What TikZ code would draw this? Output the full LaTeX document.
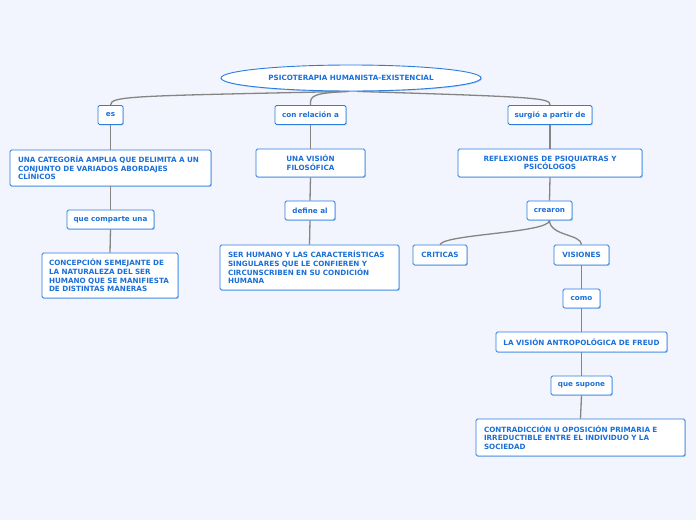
\documentclass[tikz,border=0pt]{standalone}
\usepackage{fontspec}
\setmainfont{DejaVu Sans}
\usetikzlibrary{shapes.geometric,shadows}
\definecolor{bg}{HTML}{F2F5FD}
\definecolor{bord}{HTML}{2A7DE1}
\definecolor{txt}{HTML}{1B6FD8}
\definecolor{edge}{HTML}{858585}
\tikzset{
  base/.style={draw=bord, line width=0.9pt, fill=white, text=txt,
    font=\fontsize{7.2}{8.6}\selectfont\bfseries, inner sep=0pt,
    drop shadow={shadow xshift=0.9pt, shadow yshift=-0.9pt, fill=bord, opacity=0.35}},
  cbox/.style={base, rounded corners=1.5pt, align=center},
  lbox/.style={base, rounded corners=1.5pt, align=left, inner xsep=8pt},
  conn/.style={draw=edge, line width=1.3pt},
}
\begin{document}
\begin{tikzpicture}[x=1pt,y=-1pt]
\fill[bg] (0,0) rectangle (696,520);
\useasboundingbox (0,0) rectangle (696,520);

\node[base, ellipse, minimum width=260pt, minimum height=26pt] (root) at (351,78) {PSICOTERAPIA HUMANISTA-EXISTENCIAL};

\node[cbox, minimum width=25pt, minimum height=19pt] (es) at (110.5,115) {es};
\node[cbox, minimum width=71pt, minimum height=19pt] (con) at (310.5,115) {con relación a};
\node[cbox, minimum width=84pt, minimum height=19pt] (surgio) at (550,115) {surgió a partir de};

\node[lbox, text width=185pt, minimum height=36pt] (cat) at (110.5,168) {UNA CATEGORÍA AMPLIA QUE DELIMITA A UN\\CONJUNTO DE VARIADOS ABORDAJES\\CLÍNICOS};
\node[cbox, minimum width=87pt, minimum height=19pt] (comparte) at (110.5,219.5) {que comparte una};
\node[lbox, inner xsep=7pt, text width=122pt, minimum height=45pt] (conc) at (110,275.5) {CONCEPCIÓN SEMEJANTE DE\\LA NATURALEZA DEL SER\\HUMANO QUE SE MANIFIESTA\\DE DISTINTAS MANERAS};

\node[cbox, minimum width=109pt, minimum height=28pt] (vision) at (310.5,163) {UNA VISIÓN\\FILOSÓFICA};
\node[cbox, minimum width=50pt, minimum height=19pt] (define) at (310,210.5) {define al};
\node[lbox, text width=163pt, minimum height=45pt] (ser) at (309.5,267.5) {SER HUMANO Y LAS CARACTERÍSTICAS\\SINGULARES QUE LE CONFIEREN Y\\CIRCUNSCRIBEN EN SU CONDICIÓN\\HUMANA};

\node[cbox, minimum width=184pt, minimum height=28pt] (refl) at (550,163) {REFLEXIONES DE PSIQUIATRAS Y\\PSICÓLOGOS};
\node[cbox, minimum width=45pt, minimum height=19pt] (crearon) at (549.5,210.5) {crearon};
\node[cbox, minimum width=54pt, minimum height=20pt] (criticas) at (440,255) {CRITICAS};
\node[cbox, minimum width=55pt, minimum height=20pt] (visiones) at (581.5,255) {VISIONES};
\node[cbox, minimum width=37pt, minimum height=19pt] (como) at (581.5,298.5) {como};
\node[cbox, minimum width=171pt, minimum height=20pt] (freud) at (581.5,342) {LA VISIÓN ANTROPOLÓGICA DE FREUD};
\node[cbox, minimum width=61pt, minimum height=19pt] (supone) at (581.5,385.5) {que supone};
\node[lbox, text width=193pt, minimum height=37pt] (contra) at (580.5,437.5) {CONTRADICCIÓN U OPOSICIÓN PRIMARIA E\\IRREDUCTIBLE ENTRE EL INDIVIDUO Y LA\\SOCIEDAD};

\draw[conn] (root.250) .. controls (130,96) and (111,96) .. (es.north);
\draw[conn] (root.262) .. controls (312,93) and (310,96) .. (con.north);
\draw[conn] (root.295) .. controls (540,97) and (550,98) .. (surgio.north);
\draw[conn] (es.south) -- (cat.north);
\draw[conn] (cat.south) -- (comparte.north);
\draw[conn] (comparte.south) -- (conc.north);
\draw[conn] (con.south) -- (vision.north);
\draw[conn] (vision.south) -- (define.north);
\draw[conn] (define.south) -- (ser.north);
\draw[conn] (surgio.south) -- (refl.north);
\draw[conn] (refl.south) -- (crearon.north);
\draw[conn] (crearon.south) .. controls (549,233) and (445,234) .. (criticas.north);
\draw[conn] (crearon.south) .. controls (550,236) and (581,234) .. (visiones.north);
\draw[conn] (visiones.south) -- (como.north);
\draw[conn] (como.south) -- (freud.north);
\draw[conn] (freud.south) -- (supone.north);
\draw[conn] (supone.south) -- (contra.north);
\end{tikzpicture}
\end{document}
